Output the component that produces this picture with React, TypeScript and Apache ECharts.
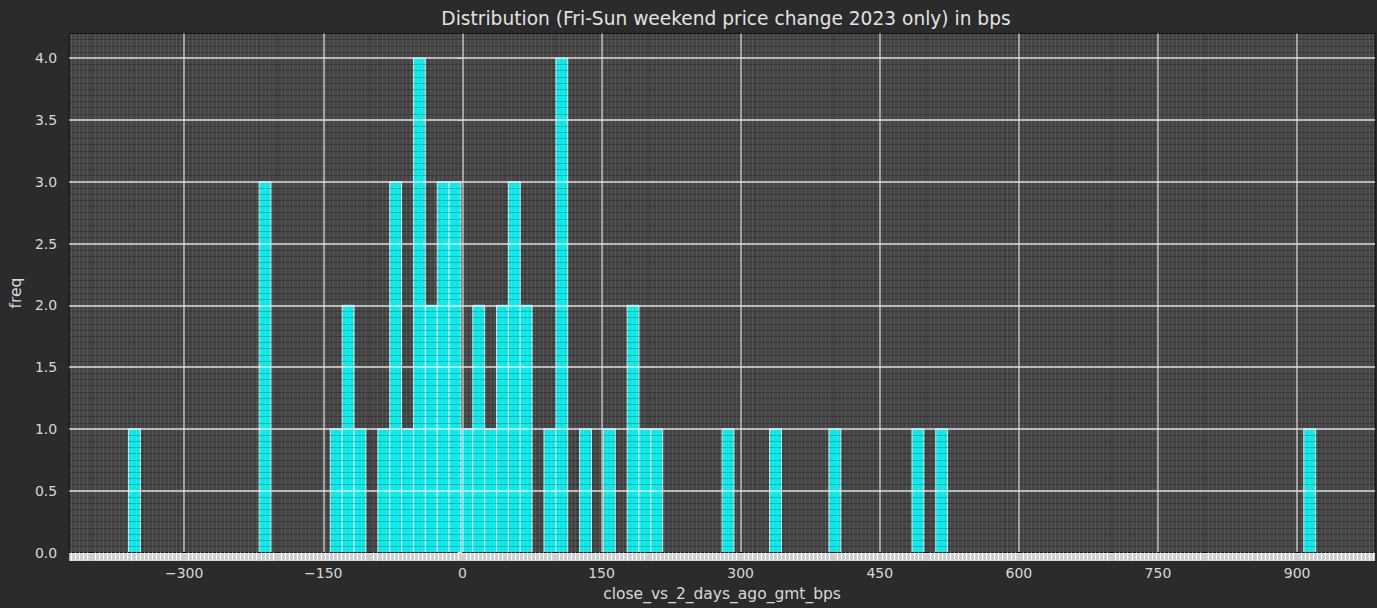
import React, { useEffect, useRef } from "react";
import * as echarts from "echarts";

// histogram of weekend price change, 100 bins from -360 to 920 bps
const binStart = -360;
const binWidth = 12.8;

// bins that hold at least one week, and how many weeks fall in each
const binIndex = [
  0, 11, 17, 18, 19, 21, 22, 23, 24, 25, 26, 27, 28, 29, 30, 31, 32, 33, 35, 36,
  38, 40, 42, 43, 44, 50, 54, 59, 66, 68, 99,
];
const freq = [
  1, 3, 1, 2, 1, 1, 3, 1, 4, 2, 3, 3, 1, 2, 1, 2, 3, 2, 1, 4,
  1, 1, 2, 1, 1, 1, 1, 1, 1, 1, 1,
];

const xTicks = [-300, -150, 0, 150, 300, 450, 600, 750, 900];
const yTicks = [0, 0.5, 1, 1.5, 2, 2.5, 3, 3.5, 4];

const xMin = -424;
const xMax = 984;
const yMax = 4.2;

const FONT = "DejaVu Sans";
const TEXT = "#d8d8d8";

const App: React.FC = () => {
  const chartRef = useRef<HTMLDivElement | null>(null);

  useEffect(() => {
    if (!chartRef.current) return;
    const chart = echarts.init(chartRef.current, undefined, { renderer: "svg" });

    const bars = binIndex.map((b, i) => [
      binStart + b * binWidth,
      binStart + (b + 1) * binWidth,
      freq[i],
    ]);

    const minus = (v: number) => (v < 0 ? "\u2212" + Math.abs(v) : String(v));

    const option: any = {
      animation: false,
      backgroundColor: "#2b2b2b",
      textStyle: { fontFamily: FONT },
      title: {
        text: "Distribution (Fri-Sun weekend price change 2023 only) in bps",
        left: 721,
        top: 4,
        textAlign: "center",
        textStyle: { color: "#e2e2e2", fontSize: 18.6, fontWeight: "normal", fontFamily: FONT },
      },
      grid: {
        left: 67,
        right: 2,
        top: 33.5,
        bottom: 55.5,
        show: true,
        backgroundColor: "#454545",
        borderColor: "#111111",
        borderWidth: 1,
      },
      xAxis: [
        {
          type: "value",
          position: "bottom",
          min: xMin,
          max: xMax,
          splitNumber: 14,
          z: 5,
          name: "close_vs_2_days_ago_gmt_bps",
          nameLocation: "middle",
          nameGap: 33,
          nameTextStyle: { color: TEXT, fontSize: 15.5, fontFamily: FONT },
          axisLine: { show: true, onZero: false, lineStyle: { color: "#111111", width: 1 } },
          axisTick: { show: false, customValues: xTicks },
          axisLabel: {
            customValues: xTicks,
            color: TEXT,
            fontSize: 14,
            margin: 13,
            formatter: minus,
          },
          splitLine: {
            show: true,
            lineStyle: { color: "rgba(225,225,225,0.8)", width: 1.5 },
          },
          minorTick: {
            show: true,
            splitNumber: 23,
            length: 8,
            lineStyle: { color: "#ffffff", width: 1.2 },
          },
          minorSplitLine: {
            show: true,
            lineStyle: { color: "rgba(255,255,255,0.09)", width: 1 },
          },
        },
        {
          // light band under the plot made of the packed minor ticks
          type: "value",
          position: "bottom",
          min: xMin,
          max: xMax,
          offset: 4,
          z: 4,
          axisLine: {
            show: true,
            onZero: false,
            lineStyle: { color: "#cfcfcf", width: 8, cap: "butt" },
          },
          axisTick: { show: false },
          axisLabel: { show: false },
          splitLine: { show: false },
        },
      ],
      yAxis: {
        type: "value",
        min: 0,
        max: yMax,
        interval: 0.5,
        z: 5,
        name: "freq",
        nameLocation: "middle",
        nameGap: 45,
        nameTextStyle: { color: TEXT, fontSize: 15.5, fontFamily: FONT },
        axisLine: { show: false },
        axisTick: {
          show: true,
          customValues: yTicks,
          length: 5,
          lineStyle: { color: TEXT, width: 1 },
        },
        axisLabel: {
          customValues: yTicks,
          color: TEXT,
          fontSize: 14,
          margin: 12,
          formatter: (v: number) => v.toFixed(1),
        },
        splitLine: {
          show: true,
          lineStyle: { color: "rgba(240,240,240,0.9)", width: 1.5 },
        },
        minorTick: { show: false, splitNumber: 10 },
        minorSplitLine: {
          show: true,
          lineStyle: { color: "rgba(0,0,0,0.22)", width: 1 },
        },
      },
      series: [
        {
          type: "custom",
          xAxisIndex: 0,
          clip: true,
          data: bars,
          encode: { x: [0, 1], y: 2 },
          renderItem: (_params: any, api: any) => {
            const top = api.coord([api.value(0), api.value(2)]);
            const bottom = api.coord([api.value(1), 0]);
            return {
              type: "rect",
              shape: {
                x: top[0],
                y: top[1],
                width: bottom[0] - top[0],
                height: bottom[1] - top[1],
              },
              style: { fill: "#08eaea", stroke: "#e6e6e6", lineWidth: 1 },
            };
          },
        },
      ],
    };

    chart.setOption(option);
    return () => {
      chart.dispose();
    };
  }, []);

  return (
    <div
      ref={chartRef}
      style={{ position: "fixed", left: 0, top: 0, width: 1377, height: 608 }}
    />
  );
};

export default App;
